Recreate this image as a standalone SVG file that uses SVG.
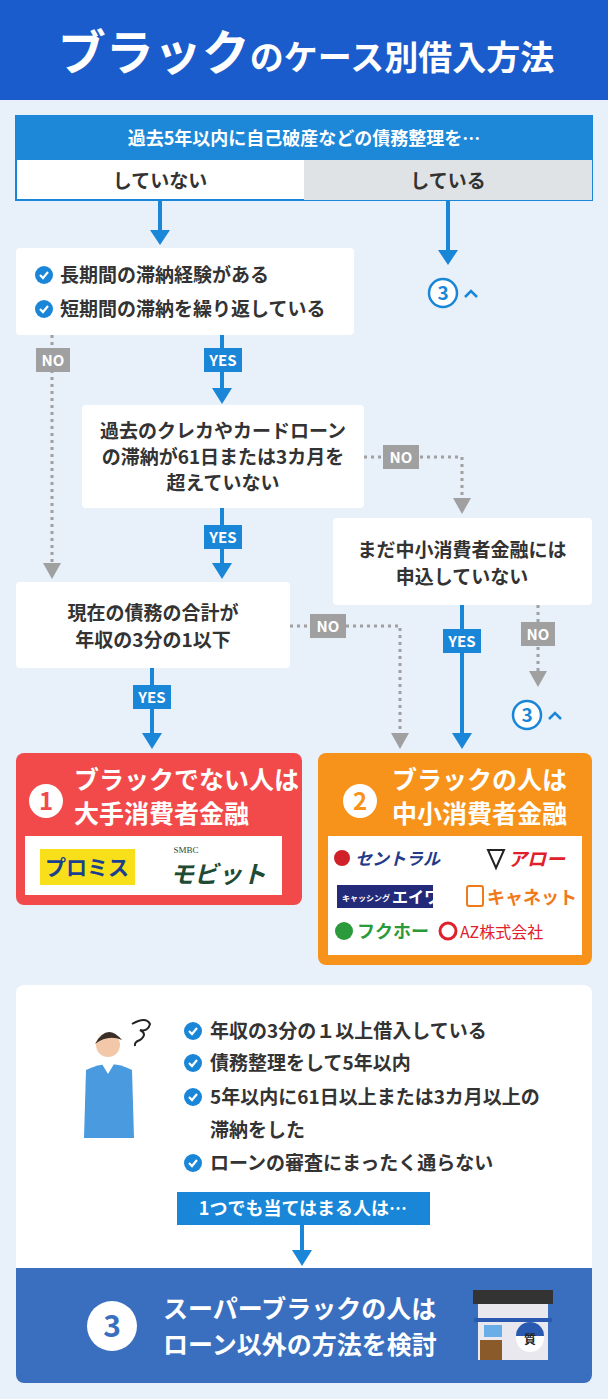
<svg xmlns="http://www.w3.org/2000/svg" width="608" height="1399" viewBox="0 0 608 1399">
<style>
text{font-family:"Noto Sans CJK JP","Noto Sans",sans-serif;font-weight:700}
.t{font-size:19px;fill:#333}
.w{fill:#fff}
.blue{stroke:#1a86d8;stroke-width:4;fill:none}
.dot{stroke:#a0a0a0;stroke-width:3;stroke-dasharray:3 4;fill:none}
.lb{font-size:15px;fill:#fff;text-anchor:middle}
</style>
<defs>
<g id="chk"><circle r="9" fill="#1a86d8"/><path d="M-4,0 L-1,3 L4,-3" stroke="#fff" stroke-width="2.2" fill="none"/></g>
</defs>
<rect width="608" height="1399" fill="#e8f0fa"/>
<g id="header"><rect width="608" height="100" fill="#1a5ccc"/>
<text x="306" y="70" text-anchor="middle" class="w" font-size="48">ブラック<tspan font-size="34">のケース別借入方法</tspan></text></g>
<g id="q1"><rect x="16" y="116" width="576" height="84" fill="#fff" stroke="#1a86d8" stroke-width="2"/>
<rect x="16" y="116" width="576" height="44" fill="#1e88d8"/>
<rect x="304" y="160" width="288" height="40" fill="#dfe3e6"/>
<text x="304" y="145" text-anchor="middle" class="w" font-size="18">過去5年以内に自己破産などの債務整理を…</text>
<text x="160" y="188" text-anchor="middle" class="t" font-size="18">していない</text>
<text x="448" y="188" text-anchor="middle" class="t" font-size="18">している</text></g>
<g id="boxA"><rect x="16" y="248" width="338" height="87" rx="4" fill="#fff"/>
<use href="#chk" x="44" y="275"/><text x="60" y="282" class="t">長期間の滞納経験がある</text>
<use href="#chk" x="44" y="309"/><text x="60" y="316" class="t">短期間の滞納を繰り返している</text></g>
<g id="boxB"><rect x="82" y="405" width="282" height="103" rx="4" fill="#fff"/>
<text x="223" y="438" text-anchor="middle" class="t">過去のクレカやカードローン</text>
<text x="223" y="464" text-anchor="middle" class="t">の滞納が61日または3カ月を</text>
<text x="223" y="490" text-anchor="middle" class="t">超えていない</text></g>
<g id="boxC"><rect x="333" y="518" width="259" height="87" rx="4" fill="#fff"/>
<text x="462" y="557" text-anchor="middle" class="t">まだ中小消費者金融には</text>
<text x="462" y="584" text-anchor="middle" class="t">申込していない</text></g>
<g id="boxD"><rect x="16" y="582" width="274" height="86" rx="4" fill="#fff"/>
<text x="153" y="620" text-anchor="middle" class="t">現在の債務の合計が</text>
<text x="153" y="647" text-anchor="middle" class="t">年収の3分の1以下</text></g>
<g id="res1"><rect x="16" y="753" width="286" height="152" rx="8" fill="#f24a4a"/>
<circle cx="46" cy="801" r="17" fill="#fff"/><text x="46" y="810" text-anchor="middle" font-size="24" fill="#f24a4a">1</text>
<text x="74" y="789" class="w" font-size="25">ブラックでない人は</text>
<text x="74" y="823" class="w" font-size="25">大手消費者金融</text>
<rect x="25" y="836" width="257" height="59" fill="#fff"/>
<rect x="40" y="849" width="95" height="36" fill="#f7e01a"/>
<text x="87" y="875" text-anchor="middle" font-size="21" fill="#1a3f8f">プロミス</text>
<text x="186" y="853" text-anchor="middle" font-size="9" fill="#1f4a33" style="font-family:'Liberation Serif',serif;font-weight:400">SMBC</text>
<text x="218" y="883" text-anchor="middle" font-size="24" fill="#1f4a33" font-style="italic">モビット</text></g>
<g id="res2"><rect x="318" y="753" width="274" height="212" rx="8" fill="#f7931a"/>
<circle cx="360" cy="801" r="17" fill="#fff"/><text x="360" y="810" text-anchor="middle" font-size="24" fill="#f7931a">2</text>
<text x="392" y="789" class="w" font-size="25">ブラックの人は</text>
<text x="392" y="823" class="w" font-size="25">中小消費者金融</text>
<rect x="328" y="836" width="254" height="119" fill="#fff"/>
<circle cx="342" cy="858" r="8" fill="#d0202a"/>
<text x="355" y="865" font-size="17" fill="#233a8a" font-style="italic">セントラル</text>
<path d="M488,850 h16 l-8,18z" fill="none" stroke="#222" stroke-width="2"/>
<text x="508" y="866" font-size="19" fill="#e0202a" font-style="italic">アロー</text>
<rect x="337" y="885" width="96" height="23" fill="#232a7a"/>
<text x="342" y="901" font-size="8" class="w">キャッシング</text><text x="392" y="903" font-size="16" class="w">エイワ</text>
<rect x="467" y="886" width="16" height="20" rx="2" fill="none" stroke="#f07a1a" stroke-width="2"/>
<text x="487" y="904" font-size="18" fill="#f07a1a">キャネット</text>
<circle cx="344" cy="931" r="9" fill="#2a9a3a"/>
<text x="357" y="938" font-size="18" fill="#2a9a3a">フクホー</text>
<circle cx="448" cy="931" r="8" fill="none" stroke="#e0202a" stroke-width="3"/>
<text x="460" y="938" font-size="16" fill="#e0202a" style="font-family:'Noto Sans CJK JP',serif;font-weight:400">AZ株式会社</text></g>
<g id="bottom"><rect x="16" y="985" width="576" height="398" rx="8" fill="#fff"/>
<g id="person"><circle cx="108" cy="1045" r="12" fill="#f2c8a8"/><path d="M95,1044 q12,-22 27,-4 q-14,-6 -27,4z" fill="#3a2e28"/>
<path d="M86,1070 q24,-12 46,0 l2,68 h-50z" fill="#4a9ae0"/><path d="M102,1064 l6,10 l6,-10z" fill="#fff"/>
<path d="M132,1024 q14,-8 18,0 q-2,8 -10,6 q8,4 0,10 q-6,2 -5,6" stroke="#222" stroke-width="2" fill="none"/></g>
<use href="#chk" x="193" y="1031"/><text x="210" y="1038" class="t">年収の3分の１以上借入している</text>
<use href="#chk" x="193" y="1063"/><text x="210" y="1070" class="t">債務整理をして5年以内</text>
<use href="#chk" x="193" y="1097"/><text x="210" y="1104" class="t">5年以内に61日以上または3カ月以上の</text>
<text x="210" y="1137" class="t">滞納をした</text>
<use href="#chk" x="193" y="1163"/><text x="210" y="1170" class="t">ローンの審査にまったく通らない</text>
<rect x="177" y="1192" width="253" height="33" fill="#1a86d8"/>
<text x="303" y="1215" text-anchor="middle" class="w" font-size="18">1つでも当てはまる人は…</text>
<path d="M16,1268 H592 V1375 a8,8 0 0 1 -8,8 H24 a8,8 0 0 1 -8,-8z" fill="#3a6fbf"/>
<circle cx="112" cy="1326" r="25" fill="#fff"/><text x="112" y="1337" text-anchor="middle" font-size="30" fill="#3a6fbf">3</text>
<text x="163" y="1318" class="w" font-size="25">スーパーブラックの人は</text>
<text x="163" y="1354" class="w" font-size="25">ローン以外の方法を検討</text>
<g id="shop"><rect x="473" y="1290" width="80" height="14" fill="#333"/><rect x="478" y="1304" width="70" height="16" fill="#e8e8ee"/><rect x="474" y="1318" width="78" height="4" fill="#2a5ab0"/><rect x="478" y="1322" width="70" height="38" fill="#e8e8ee"/>
<rect x="484" y="1325" width="18" height="12" fill="#6aaee8"/><rect x="480" y="1340" width="22" height="20" fill="#8a5a2a"/>
<circle cx="530" cy="1338" r="14" fill="#fff"/><path d="M516,1336 a14,14 0 0 1 28,0z" fill="#2a5ab0"/><text x="530" y="1344" text-anchor="middle" font-size="12" fill="#222">質</text></g>
</g>
<g id="connectors">
<path d="M160,200 V232" class="blue"/><path d="M150,230 h20 l-10,15z" fill="#1a86d8"/>
<path d="M448,200 V252" class="blue"/><path d="M438,250 h20 l-10,15z" fill="#1a86d8"/>
<path d="M52,335 V565" class="dot"/><path d="M43,563 h18 l-9,16z" fill="#a0a0a0"/>
<path d="M222,335 V390" class="blue"/><path d="M212,388 h20 l-10,16z" fill="#1a86d8"/>
<path d="M364,457 H462 V500" class="dot"/><path d="M453,498 h18 l-9,16z" fill="#a0a0a0"/>
<path d="M222,508 V565" class="blue"/><path d="M212,563 h20 l-10,16z" fill="#1a86d8"/>
<path d="M152,668 V735" class="blue"/><path d="M142,733 h20 l-10,16z" fill="#1a86d8"/>
<path d="M290,626 H400 V735" class="dot"/><path d="M391,733 h18 l-9,16z" fill="#a0a0a0"/>
<path d="M462,605 V735" class="blue"/><path d="M452,733 h20 l-10,16z" fill="#1a86d8"/>
<path d="M538,605 V673" class="dot"/><path d="M529,671 h18 l-9,16z" fill="#a0a0a0"/>
<path d="M302,1225 V1252" class="blue"/><path d="M292,1250 h20 l-10,16z" fill="#1a86d8"/>
</g>
<g id="labels">
<rect x="36" y="348" width="34" height="24" fill="#a0a0a0"/><text x="53" y="366" class="lb">NO</text>
<rect x="204" y="348" width="38" height="24" fill="#1a86d8"/><text x="223" y="366" class="lb">YES</text>
<rect x="383" y="445" width="36" height="24" fill="#a0a0a0"/><text x="401" y="463" class="lb">NO</text>
<rect x="204" y="525" width="38" height="24" fill="#1a86d8"/><text x="223" y="543" class="lb">YES</text>
<rect x="310" y="614" width="36" height="24" fill="#a0a0a0"/><text x="328" y="632" class="lb">NO</text>
<rect x="521" y="622" width="34" height="24" fill="#a0a0a0"/><text x="538" y="640" class="lb">NO</text>
<rect x="443" y="629" width="38" height="24" fill="#1a86d8"/><text x="462" y="647" class="lb">YES</text>
<rect x="133" y="685" width="38" height="24" fill="#1a86d8"/><text x="152" y="703" class="lb">YES</text>
</g>
<g id="to3a"><circle cx="443" cy="293" r="14" fill="#fff" stroke="#1a86d8" stroke-width="2.5"/><text x="443" y="300" text-anchor="middle" font-size="19" fill="#1a86d8">3</text><path d="M465,297 l6,-6 l6,6" stroke="#1a86d8" stroke-width="2.5" fill="none"/></g>
<g id="to3b"><circle cx="527" cy="715" r="14" fill="#fff" stroke="#1a86d8" stroke-width="2.5"/><text x="527" y="722" text-anchor="middle" font-size="19" fill="#1a86d8">3</text><path d="M549,719 l6,-6 l6,6" stroke="#1a86d8" stroke-width="2.5" fill="none"/></g>
</svg>
